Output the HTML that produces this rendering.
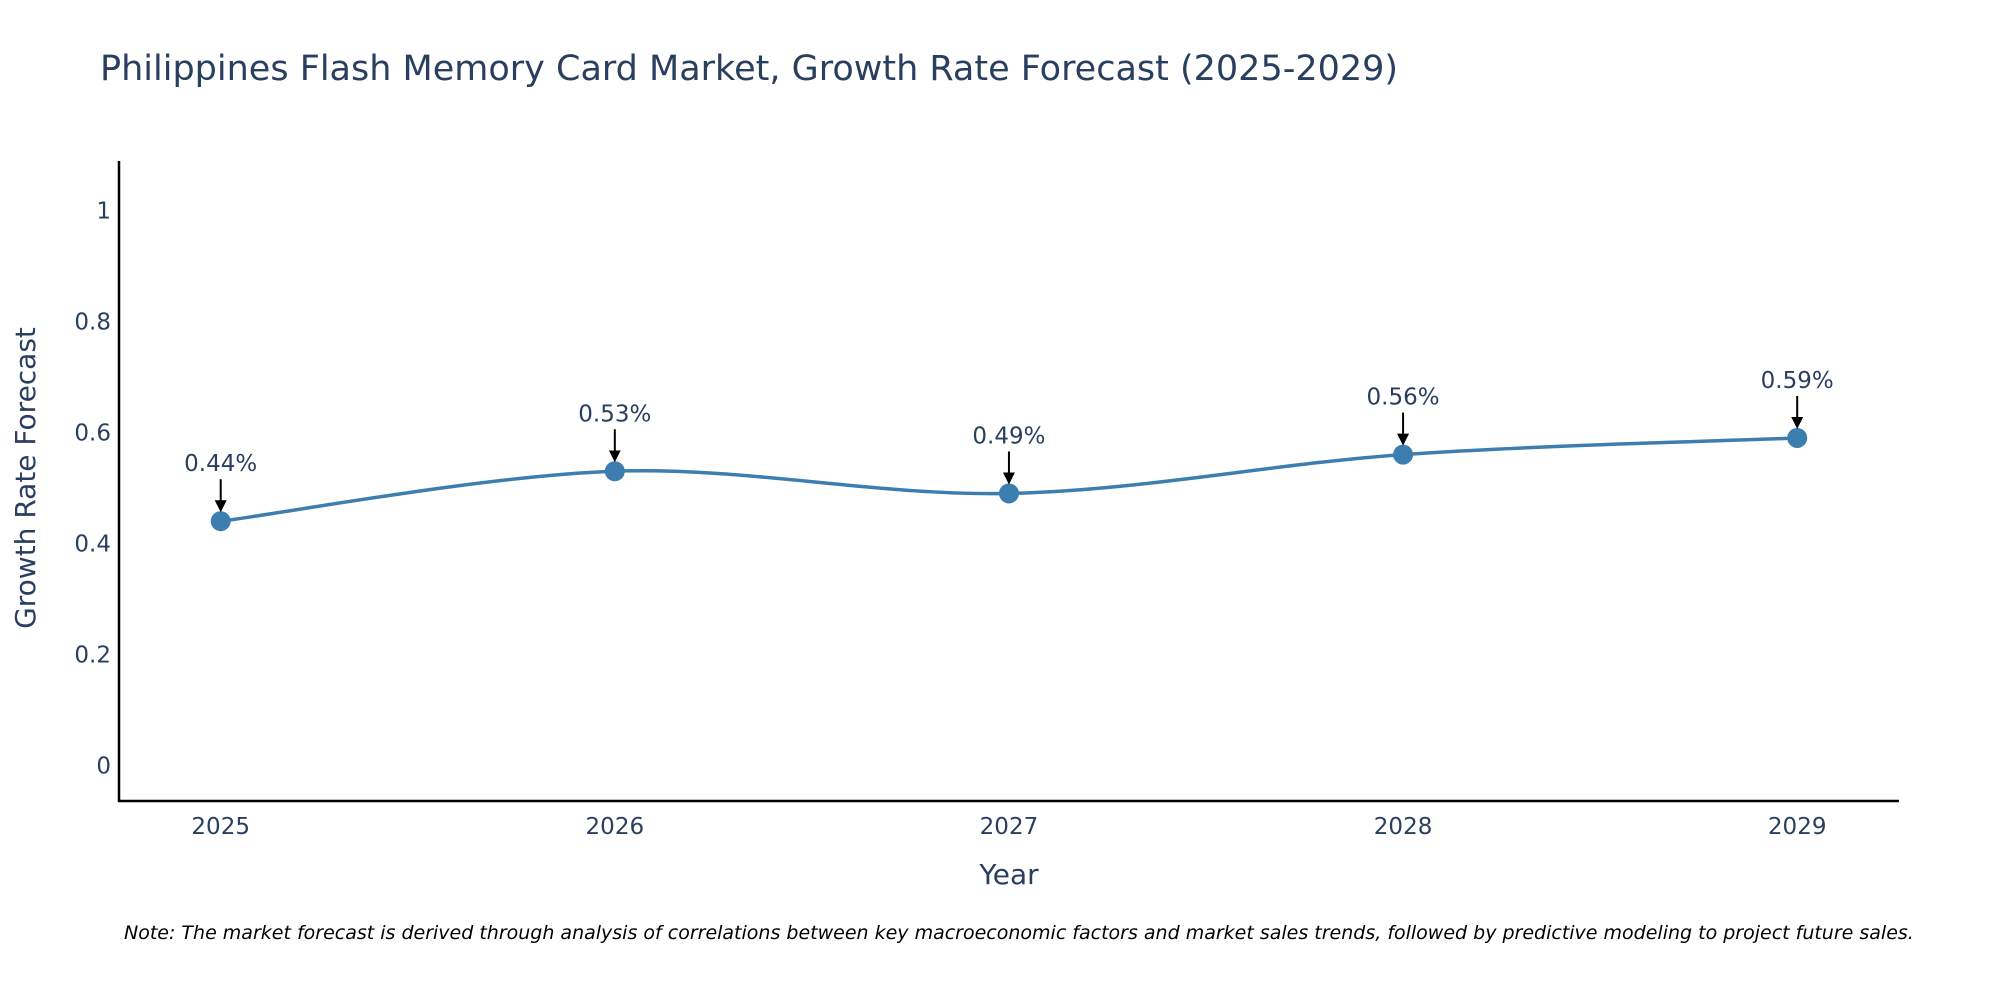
<!DOCTYPE html>
<html><head><meta charset="utf-8"><style>
html,body{margin:0;padding:0;background:#fff;width:2000px;height:1000px;overflow:hidden;font-family:"DejaVu Sans",sans-serif;}
</style></head><body>
<svg id="chart" width="2000" height="1000" xmlns="http://www.w3.org/2000/svg" font-family="DejaVu Sans, sans-serif">
<text x="100" y="80" font-size="35" fill="#2a3f5f">Philippines Flash Memory Card Market, Growth Rate Forecast (2025-2029)</text>
<g id="yticks"></g><g id="xticks"></g>
<line x1="119" y1="161" x2="119" y2="802" stroke="#000" stroke-width="2.5"/>
<line x1="118" y1="801" x2="1899" y2="801" stroke="#000" stroke-width="2.5"/>
<path id="line" fill="none" stroke="#3d7eb0" stroke-width="3.5"/>
<g id="points"></g><g id="annots"></g>
<text x="1009" y="884" font-size="28" fill="#2a3f5f" text-anchor="middle">Year</text>
<text transform="translate(35,478) rotate(-90)" font-size="28" fill="#2a3f5f" text-anchor="middle">Growth Rate Forecast</text>
<text x="124" y="939" font-size="19" font-style="italic" fill="#000">Note: The market forecast is derived through analysis of correlations between key macroeconomic factors and market sales trends, followed by predictive modeling to project future sales.</text>
<defs><marker id="ah" markerWidth="6" markerHeight="6" refX="5" refY="3" orient="auto" markerUnits="strokeWidth"><path d="M0,0 L6,3 L0,6 z" fill="#000"/></marker></defs>
</svg>
<script>
const years=[2025,2026,2027,2028,2029];
const values=[0.44,0.53,0.49,0.56,0.59];
const labels=["0.44%","0.53%","0.49%","0.56%","0.59%"];
const yTicks=[0,0.2,0.4,0.6,0.8,1];
const NS="http://www.w3.org/2000/svg";
const xS=v=>220.7+(v-2025)*(1797.2-220.7)/4;
const yS=v=>765.3-v*(765.3-210.5);
function mk(t,a,p){const e=document.createElementNS(NS,t);for(const k in a)e.setAttribute(k,a[k]);p.appendChild(e);return e;}
const yt=document.getElementById('yticks');
yTicks.forEach(t=>{const e=mk('text',{x:111,y:yS(t)+8,'font-size':23,fill:'#2a3f5f','text-anchor':'end'},yt);e.textContent=String(t);

});
const xt=document.getElementById('xticks');
years.forEach(y=>{const e=mk('text',{x:xS(y),y:834,'font-size':23,fill:'#2a3f5f','text-anchor':'middle'},xt);e.textContent=String(y);

});
const P=years.map((y,i)=>[xS(y),yS(values[i])]);
let d="M"+P[0][0]+","+P[0][1];const s=1/6;
for(let i=0;i<P.length-1;i++){const p0=P[Math.max(0,i-1)],p1=P[i],p2=P[i+1],p3=P[Math.min(P.length-1,i+2)];
d+=` C${p1[0]+(p2[0]-p0[0])*s},${p1[1]+(p2[1]-p0[1])*s} ${p2[0]-(p3[0]-p1[0])*s},${p2[1]-(p3[1]-p1[1])*s} ${p2[0]},${p2[1]}`;}
document.getElementById('line').setAttribute('d',d);
const pg=document.getElementById('points'),ag=document.getElementById('annots');
P.forEach((p,i)=>{const c=mk('circle',{cx:p[0],cy:p[1],r:10,fill:'#3d7eb0'},pg);


const l=mk('line',{x1:p[0],y1:p[1]-42,x2:p[0],y2:p[1]-11,stroke:'#000','stroke-width':2,'marker-end':'url(#ah)'},ag);


const t=mk('text',{x:p[0],y:p[1]-50,'font-size':23,fill:'#2a3f5f','text-anchor':'middle'},ag);t.textContent=labels[i];

});
</script>
</body></html>
